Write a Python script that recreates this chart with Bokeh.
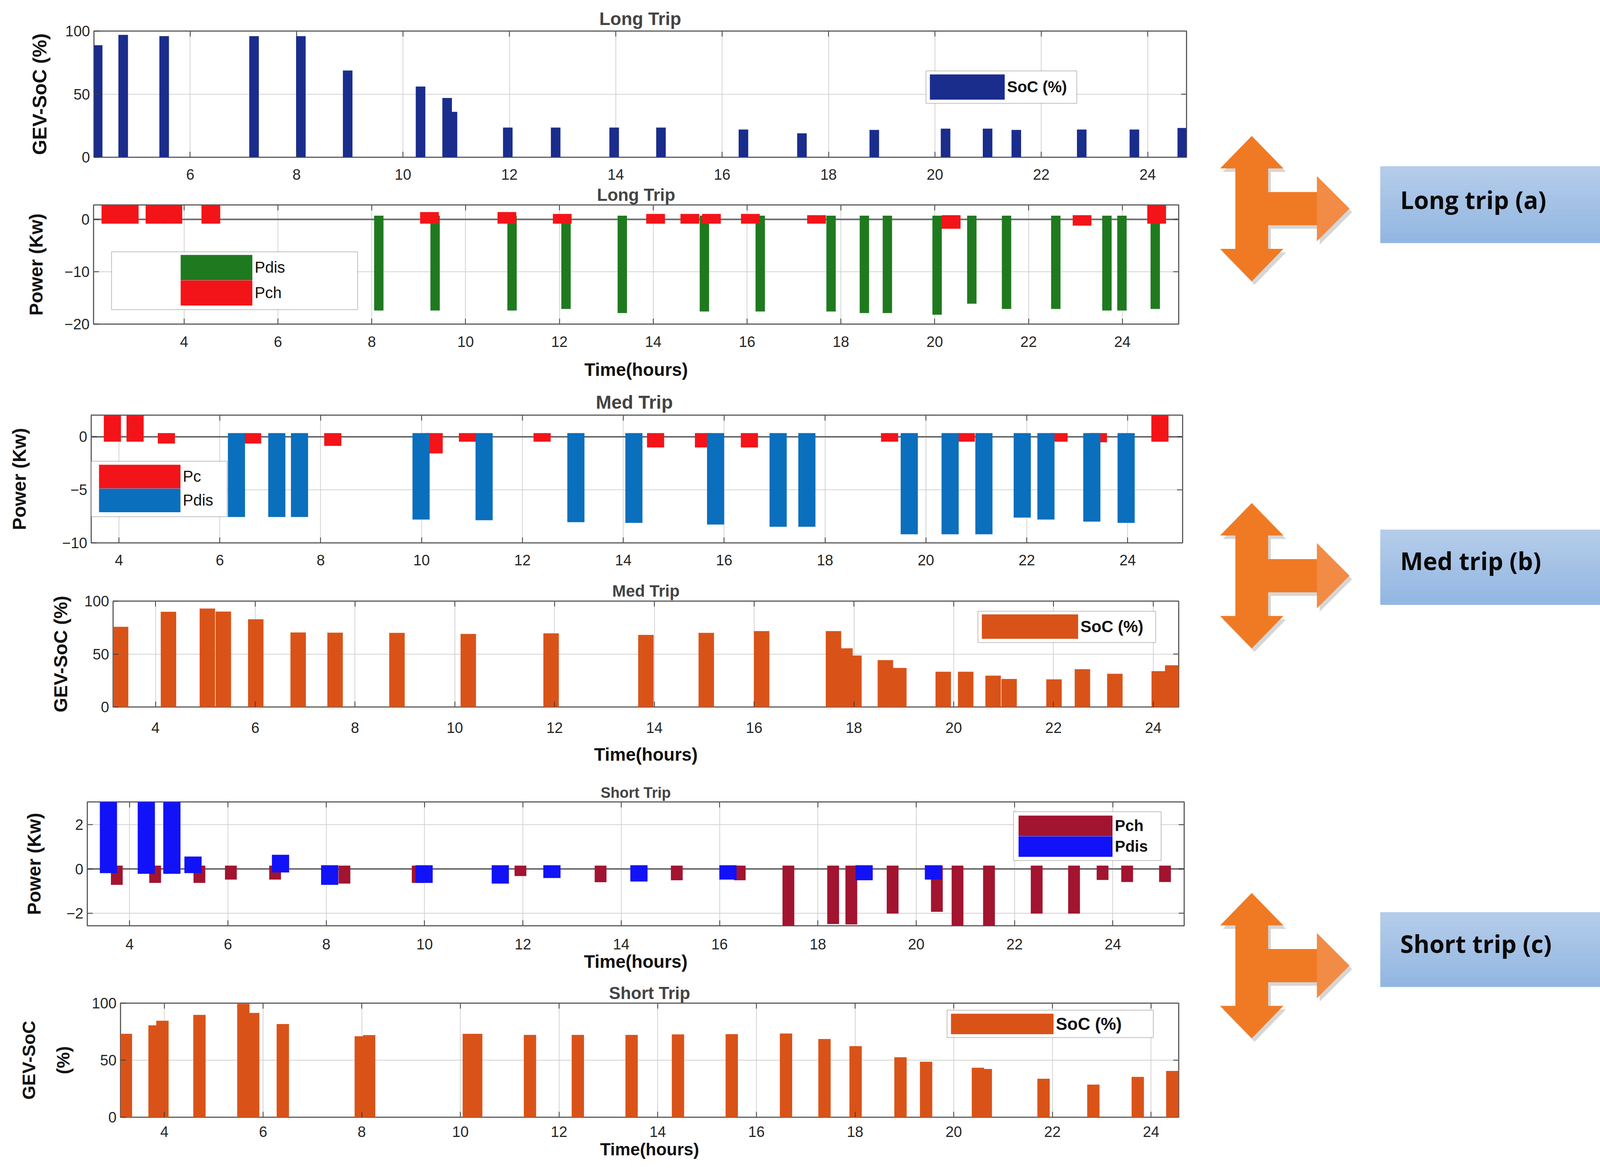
from bokeh.plotting import figure
from bokeh.layouts import column, row
from bokeh.models import (Range1d, FixedTicker, Legend, LegendItem,
                          BoxAnnotation, Span, Label)
from bokeh.embed import file_html
from bokeh.resources import INLINE

# ---------------------------------------------------------------- data
hour_ticks = [4, 6, 8, 10, 12, 14, 16, 18, 20, 22, 24]

# (a) Long trip - SoC (%)
long_soc_t = [4.26, 4.74, 5.51, 7.20, 8.08, 8.96, 10.33, 10.83, 10.93, 11.97, 12.87,
              13.97, 14.85, 16.40, 17.50, 18.86, 20.20, 20.99, 21.53, 22.76, 23.75, 24.65]
long_soc = [88.8, 97.0, 96.0, 96.0, 96.0, 68.7, 56.0, 47.0, 36.0, 23.5, 23.5,
            23.5, 23.5, 22.0, 19.0, 21.7, 22.7, 22.7, 21.7, 22.0, 22.0, 23.2]

# (a) Long trip - power (kW)
long_pdis_t = [8.15, 9.35, 10.99, 12.14, 13.34, 15.09, 16.28, 17.79, 18.50, 18.99,
               20.05, 20.79, 21.53, 22.58, 23.67, 23.99, 24.70]
long_pdis_top = [0.7, 0.7, 0.7, 0.7, 0.7, 0.7, 0.7, 0.7, 0.7, 0.7,
                 0.7, 0.7, 0.7, 0.7, 0.7, 0.7, 0.7]
long_pdis_bot = [-17.4, -17.4, -17.4, -17.1, -17.9, -17.6, -17.6, -17.6, -17.9, -17.9,
                 -18.2, -16.1, -17.1, -17.1, -17.4, -17.4, -17.1]
long_pch_t = [2.44, 2.83, 3.38, 3.76, 4.57, 9.23, 10.88, 12.06, 14.05, 14.78,
              15.24, 16.07, 17.48, 20.35, 23.14, 24.73]
long_pch_top = [3.2, 3.2, 3.2, 3.2, 3.2, 1.4, 1.4, 1.05, 1.05, 1.05,
                1.05, 1.05, 0.8, 0.8, 0.8, 3.2]
long_pch_bot = [-0.83, -0.83, -0.83, -0.83, -0.83, -0.83, -0.83, -0.83, -0.83, -0.83,
                -0.83, -0.83, -0.83, -1.8, -1.2, -0.83]

# (b) Med trip - power (kW)
med_pc_t = [3.87, 4.32, 4.94, 6.65, 8.24, 10.25, 10.91, 12.39, 14.64, 15.59,
            16.50, 19.28, 20.80, 22.64, 23.42, 24.64]
med_pc_top = [2.4, 2.4, 0.35, 0.35, 0.35, 0.35, 0.35, 0.35, 0.35, 0.35,
              0.35, 0.35, 0.35, 0.35, 0.35, 2.4]
med_pc_bot = [-0.46, -0.46, -0.64, -0.64, -0.86, -1.57, -0.46, -0.46, -1.01, -1.01,
              -1.01, -0.46, -0.46, -0.46, -0.52, -0.46]
med_pdis_t = [6.33, 7.13, 7.58, 9.99, 11.24, 13.06, 14.21, 15.83, 17.07, 17.64,
              19.67, 20.48, 21.15, 21.91, 22.38, 23.29, 23.97]
med_pdis_top = [0.35, 0.35, 0.35, 0.35, 0.35, 0.35, 0.35, 0.35, 0.35, 0.35,
                0.35, 0.35, 0.35, 0.35, 0.35, 0.35, 0.35]
med_pdis_bot = [-7.56, -7.56, -7.56, -7.80, -7.86, -8.05, -8.11, -8.27, -8.48, -8.48,
                -9.19, -9.19, -9.19, -7.62, -7.80, -7.99, -8.11]

# (b) Med trip - SoC (%)
med_soc_t = [3.30, 4.26, 5.04, 5.36, 6.01, 6.86, 7.60, 8.84, 10.27, 11.93, 13.83,
             15.04, 16.15, 17.59, 17.82, 18.00, 18.63, 18.90, 19.79, 20.24, 20.79,
             21.11, 22.01, 22.58, 23.23, 24.12, 24.39]
med_soc = [75.7, 89.9, 93.0, 90.1, 82.8, 70.4, 70.2, 70.0, 69.0, 69.6, 68.1,
           70.0, 71.7, 71.7, 55.4, 48.6, 44.3, 36.9, 33.3, 33.3, 29.6,
           26.5, 26.1, 35.7, 31.4, 33.9, 39.4]

# (c) Short trip - power (kW)
short_pch_t = [3.74, 4.52, 5.42, 6.06, 6.96, 8.37, 9.86, 11.95, 13.58, 15.13, 16.41,
               17.40, 18.31, 18.68, 19.52, 20.42, 20.84, 21.48, 22.45, 23.21, 23.79,
               24.29, 25.06]
short_pch_top = [0.15, 0.15, 0.15, 0.15, 0.15, 0.15, 0.15, 0.15, 0.15, 0.15, 0.15,
                 0.15, 0.15, 0.15, 0.15, 0.15, 0.15, 0.15, 0.15, 0.15, 0.15,
                 0.15, 0.15]
short_pch_bot = [-0.72, -0.63, -0.63, -0.48, -0.48, -0.66, -0.63, -0.32, -0.60, -0.51, -0.51,
                 -2.57, -2.49, -2.51, -2.02, -1.94, -2.67, -2.62, -2.02, -2.02, -0.50,
                 -0.59, -0.59]
short_pdis_t = [3.57, 4.34, 4.86, 5.29, 7.07, 8.07, 9.99, 11.54, 12.59, 14.36, 16.17,
                18.94, 20.35]
short_pdis_top = [3.3, 3.3, 3.3, 0.56, 0.64, 0.17, 0.17, 0.17, 0.17, 0.17, 0.17,
                  0.17, 0.17]
short_pdis_bot = [-0.19, -0.22, -0.22, -0.19, -0.16, -0.72, -0.63, -0.66, -0.41, -0.57, -0.48,
                  -0.51, -0.48]

# (c) Short trip - SoC (%)
short_soc_t = [3.22, 3.80, 3.96, 4.71, 5.60, 5.80, 6.40, 7.98, 8.15, 10.17, 10.32,
               11.41, 12.38, 13.47, 14.41, 15.50, 16.60, 17.38, 18.01, 18.92, 19.44,
               20.49, 20.65, 21.82, 22.83, 23.73, 24.43]
short_soc = [73.1, 80.6, 84.6, 89.7, 99.4, 91.4, 81.7, 71.0, 72.0, 73.1, 73.1,
             72.2, 72.2, 72.2, 72.6, 72.9, 73.4, 68.6, 62.3, 52.6, 48.6,
             43.4, 42.3, 33.7, 28.6, 35.4, 40.6]

callout_labels = ["Long trip (a)", "Med trip (b)", "Short trip (c)"]

# ---------------------------------------------------------------- style
FONT = "Liberation Sans"
NAVY = "#1a2d8c"
GREEN = "#1f7a1f"
RED = "#f31419"
MBLUE = "#0a6fbd"
ORANGE = "#d95319"
MAROON = "#a2142f"
BLUE = "#1212f8"
FIG_W = 3072
RIGHT_W = 1228
TOTAL_H = 2976
TICK_LEN = 14


def make_panel(title, h, mb, xr, yr, yticks, ylabel, xlabel, fs):
    top_b, bot_b, left_b, right_b = mb
    p = figure(width=FIG_W, height=h, x_range=Range1d(*xr), y_range=Range1d(*yr),
               output_backend="svg", toolbar_location=None,
               min_border_top=top_b, min_border_bottom=bot_b,
               min_border_left=left_b, min_border_right=right_b)
    try:
        p.frame_align = False
    except Exception:
        pass
    p.title.text = title
    p.title.align = "center"
    p.title.text_font = FONT
    p.title.text_font_style = "bold"
    p.title.text_font_size = "%dpx" % fs["title"]
    p.title.standoff = fs["title_standoff"]
    p.outline_line_color = "#5e5e5e"
    p.outline_line_width = 3
    p.background_fill_color = "white"
    p.border_fill_color = "white"
    p.grid.grid_line_color = "#d2d2d2"
    p.grid.grid_line_width = 2
    p.xaxis.ticker = FixedTicker(ticks=hour_ticks)
    p.yaxis.ticker = FixedTicker(ticks=yticks)
    for ax in (p.xaxis[0], p.yaxis[0]):
        ax.major_tick_in = TICK_LEN
        ax.major_tick_out = 0
        ax.major_tick_line_color = "#3a3a3a"
        ax.major_tick_line_width = 2
        ax.minor_tick_line_color = None
        ax.axis_line_color = None
        ax.major_label_text_font = FONT
        ax.major_label_text_font_size = "38px"
        ax.major_label_text_color = "#262626"
        ax.axis_label_text_font = FONT
        ax.axis_label_text_font_style = "bold"
        ax.axis_label_text_color = "#111111"
    p.yaxis.axis_label = ylabel
    p.yaxis.axis_label_text_font_size = "%dpx" % fs["ylabel"]
    p.yaxis.axis_label_standoff = fs["ylabel_standoff"]
    if "ylabel_lh" in fs:
        p.yaxis.axis_label_text_line_height = fs["ylabel_lh"]
    p.yaxis.major_label_standoff = 10
    p.xaxis.major_label_standoff = fs["xtick_standoff"]
    if xlabel:
        p.xaxis.axis_label = xlabel
        p.xaxis.axis_label_text_font_size = "%dpx" % fs["xlabel"]
        p.xaxis.axis_label_standoff = fs["xlabel_standoff"]

    # inward tick marks on the top and right edges of the box (MATLAB "box on")
    fw = FIG_W - left_b - right_b
    fh = h - top_b - bot_b
    dy = TICK_LEN / fh * (yr[1] - yr[0])
    dx = TICK_LEN / fw * (xr[1] - xr[0])
    tx = [t for t in hour_ticks if xr[0] < t < xr[1]]
    p.segment(x0=tx, y0=[yr[1]] * len(tx), x1=tx, y1=[yr[1] - dy] * len(tx),
              line_color="#3a3a3a", line_width=2)
    ty = [t for t in yticks if yr[0] < t < yr[1]]
    p.segment(x0=[xr[1]] * len(ty), y0=ty, x1=[xr[1] - dx] * len(ty), y1=ty,
              line_color="#3a3a3a", line_width=2)
    return p


def add_bars(p, t, top, bottom, width, color):
    return p.vbar(x=t, top=top, bottom=bottom, width=width, fill_color=color,
                  line_color=None)


def add_zero_line(p):
    p.add_layout(Span(location=0, dimension="width", line_color="#6a6a6a",
                      line_width=4, level="underlay"))


def add_legend(p, frame, entries, sw, box, font_px, bold):
    # frame: (left, top, right, bottom) page px ; sw: (left, top, w, h) ; box: (l, t, r, b)
    fl, ft, fr_, fb = frame
    x0, x1 = p.x_range.start, p.x_range.end
    y0, y1 = p.y_range.start, p.y_range.end

    def px2x(px):
        return x0 + (px - fl) / (fr_ - fl) * (x1 - x0)

    def px2y(py):
        return y1 - (py - ft) / (fb - ft) * (y1 - y0)

    bl, bt, br, bb = box
    p.add_layout(BoxAnnotation(left=px2x(bl), right=px2x(br), top=px2y(bt), bottom=px2y(bb),
                               fill_color="white", fill_alpha=1.0, line_color="#2b2b2b",
                               line_width=2, level="guide"))
    sl, st, sw_w, sw_h = sw
    items = []
    # legend swatches: thick butt-capped line renderers whose points lie outside the view
    off_x = [x0 - 20, x0 - 19]
    off_y = [y0 - 1000, y0 - 1000]
    for lab, col in entries:
        r = p.line(x=off_x, y=off_y, line_color=col, line_width=sw_h, line_cap="butt")
        items.append(LegendItem(label=lab, renderers=[r]))
    leg = Legend(items=items, location=(sl - fl, fb - (st + sw_h * len(entries))),
                 glyph_width=sw_w, glyph_height=sw_h, spacing=0, padding=0, margin=0,
                 label_standoff=6, label_text_font=FONT,
                 label_text_font_size="%dpx" % font_px,
                 label_text_font_style="bold" if bold else "normal",
                 label_text_color="#111111",
                 border_line_alpha=0, background_fill_alpha=0)
    p.add_layout(leg, "center")


# ---- (a) Long trip SoC
p1 = make_panel("Long Trip", 470, (79, 68, 240, 35), (4.19, 24.73), (0, 100), [0, 50, 100],
                "GEV-SoC (%)", None,
                dict(title=46, title_standoff=12, ylabel=50, ylabel_standoff=34,
                     xtick_standoff=30))
add_bars(p1, long_soc_t, long_soc, [0] * len(long_soc), 0.18, NAVY)
add_legend(p1, (248, 87, 3045, 410), [("SoC (%)", NAVY)], (2388, 198, 192, 65),
           (2378, 189, 2764, 272), 40, True)

# ---- (a) Long trip power
p2 = make_panel("Long Trip", 507, (54, 148, 239, 55), (2.07, 25.2), (-20, 2.76), [-20, -10, 0],
                "Power (Kw)", "Time(hours)",
                dict(title=44, title_standoff=3, ylabel=48, ylabel_standoff=43,
                     xtick_standoff=31, xlabel=46, xlabel_standoff=29))
add_zero_line(p2)
add_bars(p2, long_pdis_t, long_pdis_top, long_pdis_bot, 0.2, GREEN)
add_bars(p2, long_pch_t, long_pch_top, long_pch_bot, 0.4, RED)
add_legend(p2, (247, 532, 3025, 837), [("Pdis", GREEN), ("Pch", RED)], (470, 660, 184, 65),
           (293, 652, 923, 800), 40, False)

# ---- (b) Med trip power
p3 = make_panel("Med  Trip", 485, (85, 73, 233, 45), (3.45, 25.09), (-10, 2.04), [-10, -5, 0],
                "Power (Kw)", None,
                dict(title=48, title_standoff=14, ylabel=48, ylabel_standoff=80,
                     xtick_standoff=30))
add_zero_line(p3)
add_bars(p3, med_pc_t, med_pc_top, med_pc_bot, 0.34, RED)
add_bars(p3, med_pdis_t, med_pdis_top, med_pdis_bot, 0.34, MBLUE)
add_legend(p3, (241, 1070, 3035, 1397), [("Pc", RED), ("Pdis", MBLUE)], (261, 1197, 209, 61),
           (241, 1188, 589, 1330), 40, False)

# ---- (b) Med trip SoC
p4 = make_panel("Med Trip", 520, (76, 173, 289, 55), (3.15, 24.51), (0, 100), [0, 50, 100],
                "GEV-SoC (%)", "Time(hours)",
                dict(title=42, title_standoff=6, ylabel=48, ylabel_standoff=31,
                     xtick_standoff=39, xlabel=46, xlabel_standoff=26))
add_bars(p4, med_soc_t, med_soc, [0] * len(med_soc), 0.31, ORANGE)
add_legend(p4, (297, 1546, 3025, 1817), [("SoC (%)", ORANGE)], (2521, 1580, 247, 63),
           (2511, 1572, 2966, 1652), 42, True)

# ---- (c) Short trip power
p5 = make_panel("Short Trip", 510, (70, 123, 223, 41), (3.14, 25.45), (-2.57, 3.03), [-2, 0, 2],
                "Power (Kw)", "Time(hours)",
                dict(title=38, title_standoff=6, ylabel=48, ylabel_standoff=53,
                     xtick_standoff=33, xlabel=46, xlabel_standoff=2))
add_zero_line(p5)
add_bars(p5, short_pch_t, short_pch_top, short_pch_bot, 0.24, MAROON)
add_bars(p5, short_pdis_t, short_pdis_top, short_pdis_bot, 0.35, BLUE)
add_legend(p5, (231, 2060, 3039, 2377), [("Pch", MAROON), ("Pdis", BLUE)], (2615, 2095, 241, 53),
           (2602, 2085, 2980, 2210), 40, True)

# ---- (c) Short trip SoC
p6 = make_panel("Short Trip", 484, (75, 117, 308, 55), (3.11, 24.56), (0, 100), [0, 50, 100],
                "GEV-SoC\n(%)", "Time(hours)",
                dict(title=44, title_standoff=4, ylabel=46, ylabel_standoff=44, ylabel_lh=1.7,
                     xtick_standoff=23, xlabel=44, xlabel_standoff=4))
add_bars(p6, short_soc_t, short_soc, [0] * len(short_soc), 0.25, ORANGE)
add_legend(p6, (316, 2575, 3025, 2867), [("SoC (%)", ORANGE)], (2442, 2602, 263, 53),
           (2432, 2593, 2960, 2663), 44, True)

# ---------------------------------------------------------------- right-hand callouts
fr = figure(width=RIGHT_W, height=TOTAL_H, x_range=Range1d(0, RIGHT_W),
            y_range=Range1d(TOTAL_H, 0), output_backend="svg", toolbar_location=None,
            min_border=0, x_axis_type=None, y_axis_type=None)
try:
    fr.frame_align = False
except Exception:
    pass
fr.grid.visible = False
fr.outline_line_color = None
fr.background_fill_color = "white"
fr.border_fill_color = "white"

arrow_cy = [533.5, 1473.0, 2471.0]          # vertical centre of each arrow group
box_tb = [(425, 621), (1355, 1547), (2334, 2525)]
text_y = [510, 1434, 2414]
CX, HEAD_HW, SHAFT_HW, HALF_LEN, HEAD_LEN = 132, 81, 42, 186, 83
H_BASE, H_TIP, H_SHAFT_HW, H_HEAD_HW = 299, 382, 42.5, 83


def arrow_shape(cy):
    xs = [CX, CX + HEAD_HW, CX + SHAFT_HW, CX + SHAFT_HW, H_BASE, H_BASE, H_TIP,
          H_BASE, H_BASE, CX + SHAFT_HW, CX + SHAFT_HW, CX + HEAD_HW, CX,
          CX - HEAD_HW, CX - SHAFT_HW, CX - SHAFT_HW, CX - HEAD_HW]
    ys = [cy - HALF_LEN, cy - HALF_LEN + HEAD_LEN, cy - HALF_LEN + HEAD_LEN, cy - H_SHAFT_HW,
          cy - H_SHAFT_HW, cy - H_HEAD_HW, cy, cy + H_HEAD_HW, cy + H_SHAFT_HW,
          cy + H_SHAFT_HW, cy + HALF_LEN - HEAD_LEN, cy + HALF_LEN - HEAD_LEN, cy + HALF_LEN,
          cy + HALF_LEN - HEAD_LEN, cy + HALF_LEN - HEAD_LEN, cy - HALF_LEN + HEAD_LEN,
          cy - HALF_LEN + HEAD_LEN]
    return xs, ys


top_rgb = (180, 204, 233)
bot_rgb = (147, 183, 226)
NSTRIP = 16
for cy, (bt, bb), ty, lab in zip(arrow_cy, box_tb, text_y, callout_labels):
    xs, ys = arrow_shape(cy)
    fr.patch([x + 7 for x in xs], [y + 9 for y in ys], fill_color="#000000", fill_alpha=0.16,
             line_color=None)
    fr.patch(xs, ys, fill_color="#f07a24", line_color=None)
    fr.patch([H_BASE, H_TIP, H_BASE], [cy - H_HEAD_HW, cy, cy + H_HEAD_HW],
             fill_color="#f28b45", line_color=None)
    lefts, rights, tops, bottoms, cols = [], [], [], [], []
    for i in range(NSTRIP):
        f = i / (NSTRIP - 1)
        c = tuple(int(round(a + (b - a) * f)) for a, b in zip(top_rgb, bot_rgb))
        lefts.append(461)
        rights.append(1207)
        tops.append(bt + (bb - bt) * i / NSTRIP)
        bottoms.append(bt + (bb - bt) * (i + 1) / NSTRIP + 0.8)
        cols.append("#%02x%02x%02x" % c)
    fr.quad(left=lefts, right=rights, top=tops, bottom=bottoms, fill_color=cols,
            line_color=None)
    fr.add_layout(Label(x=512, y=ty, text=lab, text_font="Open Sans", text_font_style="bold",
                        text_font_size="62px", text_baseline="middle", text_align="left",
                        text_color="#0a0a0a"))

layout = row(column(p1, p2, p3, p4, p5, p6, spacing=0), fr, spacing=0)
open("out.html", "w").write(file_html(layout, INLINE))
